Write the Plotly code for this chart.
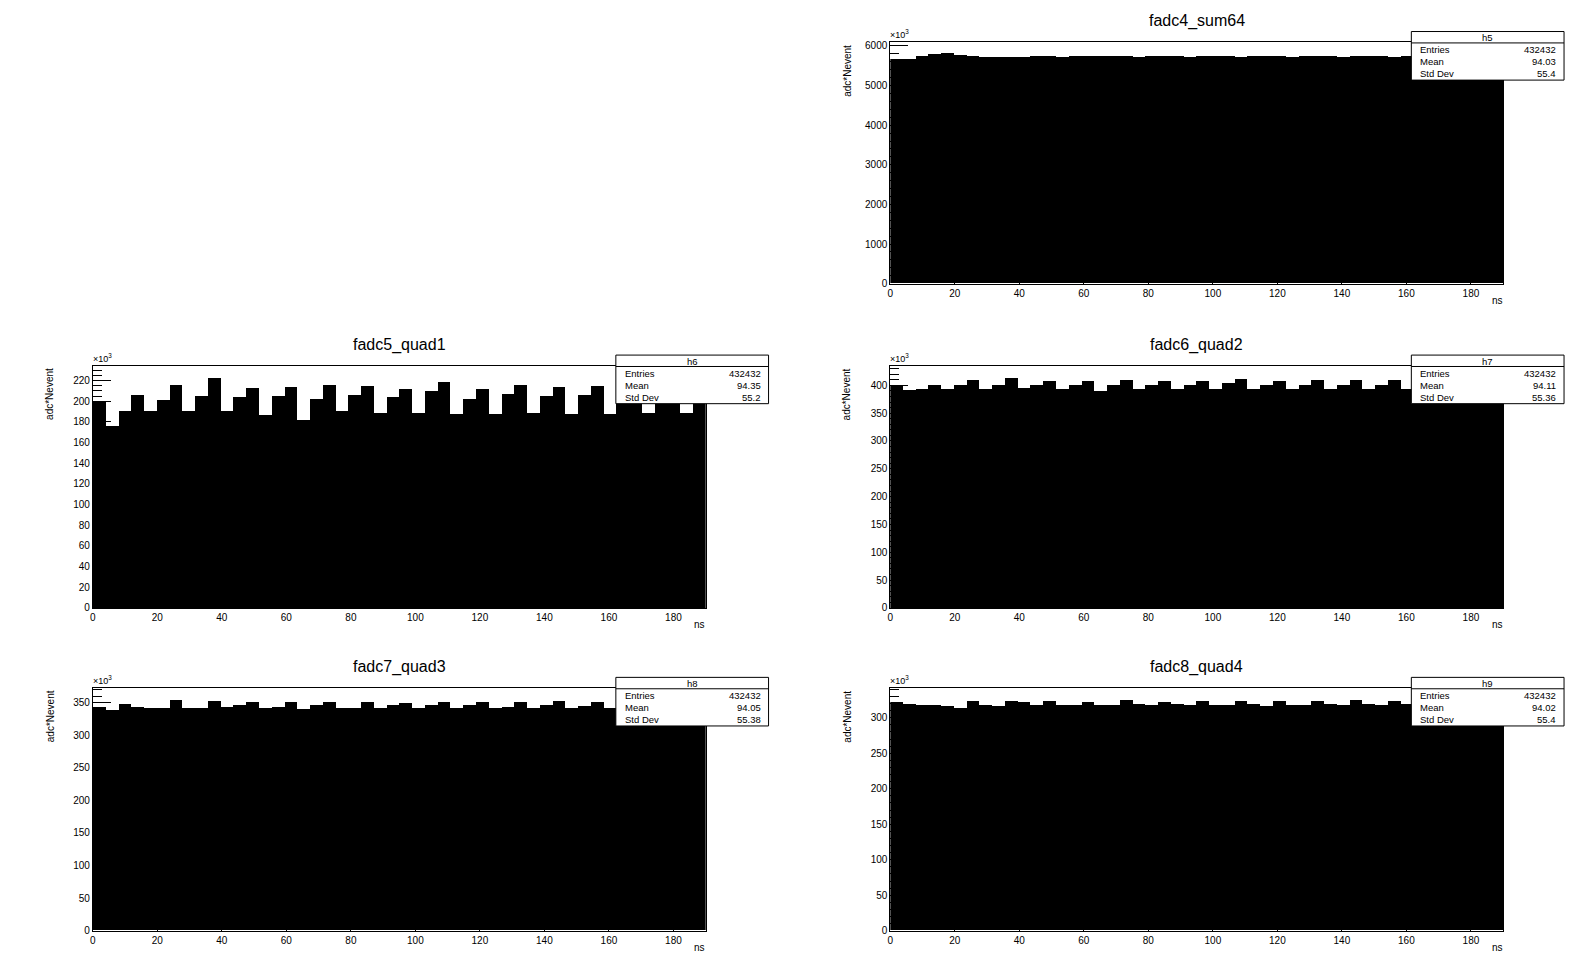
import plotly.graph_objects as go

# ---------------- data (values in units of 10^3) ----------------
n_bins = 48
x_min = 0.0
x_max = 190.0

titles = ["fadc4_sum64", "fadc5_quad1", "fadc6_quad2", "fadc7_quad3", "fadc8_quad4"]
hist_names = ["h5", "h6", "h7", "h8", "h9"]
entries = ["432432", "432432", "432432", "432432", "432432"]
means = ["94.03", "94.35", "94.11", "94.05", "94.02"]
stddevs = ["55.4", "55.2", "55.36", "55.38", "55.4"]

sum64 = [5670, 5670, 5748, 5775, 5800, 5765, 5740, 5722, 5722, 5722, 5722, 5748,
         5748, 5722, 5748, 5748, 5748, 5748, 5735, 5722, 5735, 5748, 5735, 5722,
         5735, 5748, 5735, 5722, 5735, 5748, 5735, 5722, 5735, 5748, 5735, 5722,
         5735, 5748, 5735, 5722, 5735, 5748, 5735, 5722, 5735, 5748, 5735, 5722]

quad1 = [200, 176, 190.6, 206.5, 190.6, 201.6, 215.3, 190.6, 205.5, 223, 190.6, 204.5,
         213, 187, 205.5, 214.3, 181.8, 202.3, 215.3, 190.6, 206, 215, 188.6, 204.5,
         212, 188.6, 210, 218.9, 187.6, 202.3, 212, 187.6, 207, 216, 188.6, 205.5,
         214.3, 187.6, 206, 214.6, 187.3, 206, 214, 189, 205, 213, 188.9, 206]

quad2 = [400, 392, 394, 401, 394, 401, 410, 394, 401, 414, 396, 400,
         407, 393, 400, 407, 389, 401, 409, 394, 400, 407, 394, 400,
         407, 393, 404, 412, 394, 400, 407, 393, 401, 409, 394, 401,
         409, 394, 401, 409, 393, 401, 409, 394, 401, 409, 394, 401]

quad3 = [343, 338.7, 346.8, 343, 341.4, 341.4, 354.3, 341.4, 341.4, 352.7, 343, 345.2,
         351.1, 341.4, 343, 351.1, 339.8, 345.2, 351.1, 341.4, 341.4, 351.1, 341.4, 345.2,
         349.5, 341.4, 345.2, 351.1, 341.4, 345.2, 351.1, 341.4, 343, 351.1, 341.4, 345.2,
         352.7, 341.4, 344, 351.1, 341.4, 345, 351, 341.4, 345, 351, 341.4, 345]

quad4 = [321.9, 319.1, 317.4, 317.4, 315.8, 313.6, 323.6, 317.4, 315.8, 323.6, 321.9, 317.4,
         323.6, 317.4, 317.4, 321.9, 317.4, 317.4, 325.2, 319.1, 317.4, 321.9, 319.1, 317.4,
         323.6, 317.4, 317.4, 323.6, 319.1, 315.8, 323.6, 317.4, 317.4, 323.6, 319.1, 317.4,
         325.2, 319.1, 317.4, 323.6, 319.1, 317.4, 323.6, 319.1, 317.4, 323.6, 319.1, 317.4]

series = [sum64, quad1, quad2, quad3, quad4]
y_dticks = [1000, 20, 50, 50, 50]
y_minor = [200, 5, 10, 10, 10]

# ---------------- layout geometry (page pixels) ----------------
OFF = 8  # default body margin of the html page
W, H = 1596 - 2 * OFF, 972 - 2 * OFF
cols = [(90, 704), (889, 1503)]
rows = [(40.7, 284), (367, 611), (692, 936.5)]
positions = [(0, 1), (1, 0), (1, 1), (2, 0), (2, 1)]

def px(x):
    return (x - OFF) / W

def py(y):
    return 1 - (y - OFF) / H

FONT = "Liberation Sans, Arial, Helvetica, sans-serif"

bw = (x_max - x_min) / n_bins
centers = [x_min + (i + 0.5) * bw for i in range(n_bins)]

fig = go.Figure()
shapes = []
annotations = []

for k, (vals, pos) in enumerate(zip(series, positions)):
    r, c = pos
    x0p, x1p = cols[c]
    ytop, ybot = rows[r]
    ax = "" if k == 0 else str(k + 1)
    xa = "x" + ax
    ya = "y" + ax
    fig.add_trace(go.Bar(x=centers, y=vals, width=bw, marker=dict(color="black", line=dict(width=0)),
                         xaxis=xa, yaxis=ya, showlegend=False, hoverinfo="x+y"))
    ymax = 1.05 * max(vals)
    fig.update_layout(**{
        "xaxis" + ax: dict(domain=[px(x0p), px(x1p)], anchor=ya, range=[x_min, x_max],
                           showline=True, mirror=True, linecolor="black", linewidth=1,
                           ticks="inside", ticklen=10, tickcolor="black", dtick=20, tick0=0,
                           showgrid=False, zeroline=False,
                           tickfont=dict(family=FONT, size=10, color="black")),
        "yaxis" + ax: dict(domain=[py(ybot), py(ytop)], anchor=xa, range=[0, ymax],
                           showline=True, mirror=True, linecolor="black", linewidth=1,
                           ticks="inside", ticklen=18, tickcolor="black", dtick=y_dticks[k], tick0=0,
                           minor=dict(ticks="inside", ticklen=9, dtick=y_minor[k], tick0=0, tickcolor="black"),
                           showgrid=False, zeroline=False,
                           tickfont=dict(family=FONT, size=10, color="black")),
    })
    # title
    annotations.append(dict(text=titles[k], x=px((x0p + x1p) / 2), y=py(ytop - 21.5), xref="paper", yref="paper",
                            showarrow=False, xanchor="center", yanchor="middle",
                            font=dict(family=FONT, size=16, color="black")))
    # y axis title
    annotations.append(dict(text="adc*Nevent", x=px(x0p - 43), y=py(ytop), xref="paper", yref="paper",
                            showarrow=False, textangle=-90, xanchor="center", yanchor="top",
                            font=dict(family=FONT, size=10, color="black")))
    # x axis title
    annotations.append(dict(text="ns", x=px(x1p - 6), y=py(ybot + 17), xref="paper", yref="paper",
                            showarrow=False, xanchor="center", yanchor="middle",
                            font=dict(family=FONT, size=10, color="black")))
    # x10^3
    annotations.append(dict(text="\u00d710<sup>3</sup>", x=px(x0p - 2), y=py(ytop), xref="paper", yref="paper",
                            showarrow=False, xanchor="left", yanchor="bottom",
                            font=dict(family=FONT, size=9, color="black")))
    # stats box
    bx0 = 614 if c == 0 else 1411
    bx1 = bx0 + 153
    bt = ytop - 11
    bb = bt + 49
    shapes.append(dict(type="rect", xref="paper", yref="paper", x0=px(bx0), x1=px(bx1), y0=py(bb), y1=py(bt),
                       fillcolor="white", line=dict(color="black", width=1), layer="above"))
    shapes.append(dict(type="line", xref="paper", yref="paper", x0=px(bx0), x1=px(bx1), y0=py(bt + 11.5), y1=py(bt + 11.5),
                       line=dict(color="black", width=1), layer="above"))
    annotations.append(dict(text=hist_names[k], x=px((bx0 + bx1) / 2), y=py(bt + 6), xref="paper", yref="paper",
                            showarrow=False, xanchor="center", yanchor="middle",
                            font=dict(family=FONT, size=9.5, color="black")))
    for lab, val, dy in [("Entries", entries[k], 18.4), ("Mean", means[k], 30.6), ("Std Dev", stddevs[k], 42.8)]:
        annotations.append(dict(text=lab, x=px(bx0 + 7), y=py(bt + dy), xref="paper", yref="paper",
                                showarrow=False, xanchor="left", yanchor="middle",
                                font=dict(family=FONT, size=9.5, color="black")))
        annotations.append(dict(text=val, x=px(bx1 - 6), y=py(bt + dy), xref="paper", yref="paper",
                                showarrow=False, xanchor="right", yanchor="middle",
                                font=dict(family=FONT, size=9.5, color="black")))

fig.update_layout(width=W, height=H, margin=dict(l=0, r=0, t=0, b=0),
                  paper_bgcolor="white", plot_bgcolor="white", bargap=0,
                  shapes=shapes, annotations=annotations, showlegend=False,
                  font=dict(family=FONT, color="black"))

fig.write_html("out.html")
